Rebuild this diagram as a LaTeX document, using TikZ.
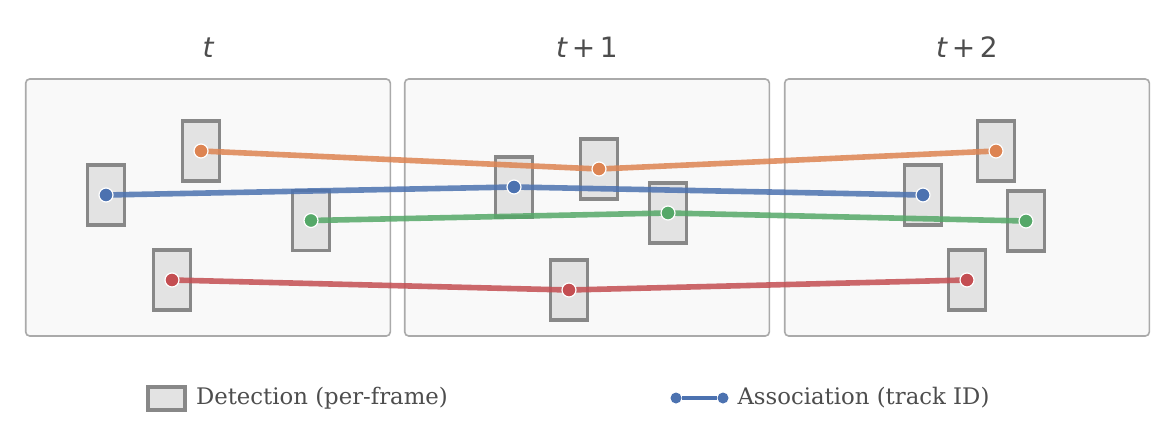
\documentclass[tikz,border=0pt]{standalone}
\usepackage{fontspec}
\setmainfont{DejaVu Serif}
\newfontfamily\titlefont{DejaVu Sans}
\usepackage{tikz}
\usetikzlibrary{arrows,positioning,shapes}

\definecolor{frameFill}{HTML}{F9F9F9}
\definecolor{frameLine}{HTML}{AAAAAA}
\definecolor{detFill}{HTML}{E3E3E3}
\definecolor{detLine}{HTML}{888888}
\definecolor{txtGray}{HTML}{4D4D4D}
\definecolor{trkBlue}{HTML}{4C72B0}
\definecolor{trkOrange}{HTML}{DD8452}
\definecolor{trkGreen}{HTML}{55A868}
\definecolor{trkRed}{HTML}{C44E52}

\begin{document}
\begin{tikzpicture}[x=0.5pt, y=-0.5pt]
    % Define styles
    \tikzstyle{frame} = [rectangle, draw=frameLine, fill=frameFill, line width=0.8pt, rounded corners=2pt, minimum width=182.3pt, minimum height=128.5pt, inner sep=0pt]
    \tikzstyle{det} = [rectangle, draw=detLine, fill=detFill, line width=1.6pt, minimum width=18.5pt, minimum height=30pt, inner sep=0pt]
    \tikzstyle{title} = [font=\titlefont\fontsize{14}{16}\selectfont, text=txtGray]
    \tikzstyle{trk} = [line width=2.8pt, opacity=0.85, line join=round]
    \tikzstyle{dot} = [circle, draw=white, line width=0.6pt, minimum size=7pt, inner sep=0pt]
    \tikzstyle{legtext} = [font=\fontsize{11.4}{13}\selectfont, text=txtGray, inner sep=0pt, anchor=west]

    \useasboundingbox (0,0) rectangle (1176,434);

    % Frames
    \node [frame] (f1) at (208,207.5) {};
    \node [frame] (f2) at (587,207.5) {};
    \node [frame] (f3) at (967,207.5) {};

    % Frame titles
    \node [title, above=7pt of f1] (t1) {\itshape t};
    \node [title, above=7pt of f2] (t2) {{\itshape t}\,+\,1};
    \node [title, above=7pt of f3] (t3) {{\itshape t}\,+\,2};

    % Detections, frame t
    \node [det] (b1) at (106,195) {};
    \node [det] (o1) at (201,151) {};
    \node [det] (g1) at (311,220.5) {};
    \node [det] (r1) at (172,280) {};
    % Detections, frame t+1
    \node [det] (b2) at (514,187) {};
    \node [det] (o2) at (599,169) {};
    \node [det] (g2) at (668,213) {};
    \node [det] (r2) at (569,290) {};
    % Detections, frame t+2
    \node [det] (o3) at (996,151) {};
    \node [det] (b3) at (923,195) {};
    \node [det] (g3) at (1026,221) {};
    \node [det] (r3) at (967,280) {};

    % Tracks
    \draw [trk, trkOrange] (o1.center) -- (o2.center) -- (o3.center);
    \draw [trk, trkBlue] (b1.center) -- (b2.center) -- (b3.center);
    \draw [trk, trkGreen] (g1.center) -- (g2.center) -- (g3.center);
    \draw [trk, trkRed] (r1.center) -- (r2.center) -- (r3.center);

    % Track points
    \foreach \n/\c in {b1/trkBlue,b2/trkBlue,b3/trkBlue,o1/trkOrange,o2/trkOrange,o3/trkOrange,g1/trkGreen,g2/trkGreen,g3/trkGreen,r1/trkRed,r2/trkRed,r3/trkRed}
        \node [dot, fill=\c] (p\n) at (\n.center) {};

    % Legend
    \node [det, minimum height=11.5pt] (legbox) at (166.5,398.5) {};
    \node [legtext, right=4.5pt of legbox] (legdet) {Detection (per-frame)};
    \node [dot, draw=none, fill=trkBlue, minimum size=5.5pt] (la) at (676,398) {};
    \node [dot, draw=none, fill=trkBlue, minimum size=5.5pt] (lb) at (723,398) {};
    \draw [trkBlue, line width=2.2pt] (la) -- (lb);
    \node [legtext, right=4pt of lb] (legtrk) {Association (track ID)};
\end{tikzpicture}
\end{document}
